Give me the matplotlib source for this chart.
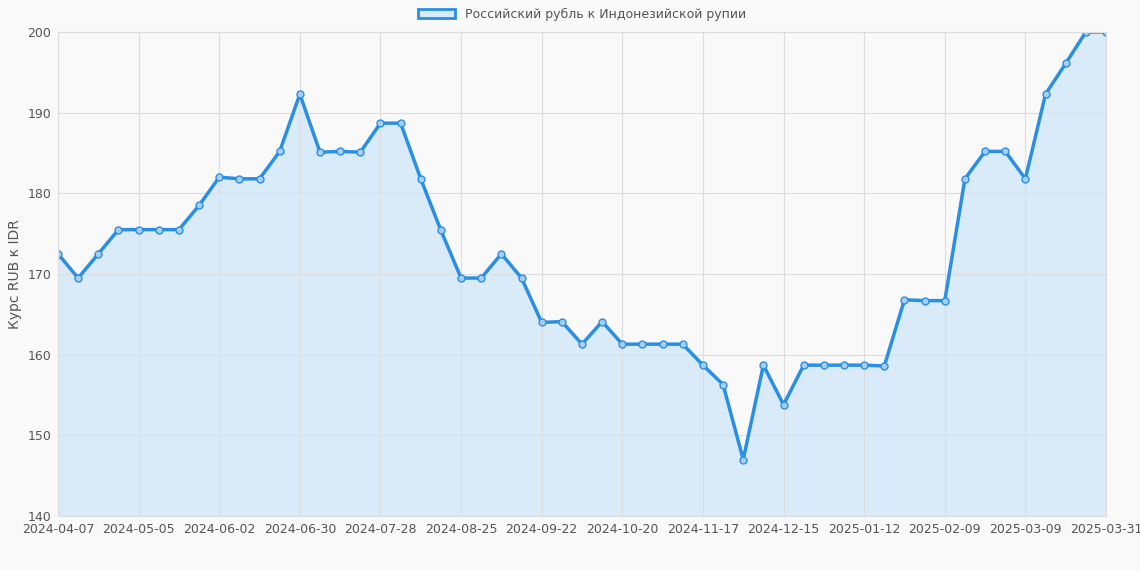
import matplotlib
matplotlib.use("Agg")
import matplotlib.pyplot as plt

values = [172.5,169.5,172.5,175.5,175.5,175.5,175.5,178.5,182,181.8,181.8,185.2,192.3,185.1,185.2,185.1,
          188.7,188.7,181.8,175.4,169.5,169.5,172.5,169.5,164,164.1,161.3,164.1,161.3,161.3,161.3,161.3,
          158.7,156.3,147,158.7,153.8,158.7,158.7,158.7,158.7,158.6,166.8,166.7,166.7,181.8,185.2,185.2,
          181.8,192.3,196.1,200,200]
tick_labels = ["2024-04-07","2024-05-05","2024-06-02","2024-06-30","2024-07-28","2024-08-25","2024-09-22",
               "2024-10-20","2024-11-17","2024-12-15","2025-01-12","2025-02-09","2025-03-09","2025-03-31"]
tick_pos = list(range(0, 49, 4)) + [52]

bg = "#f9f9f9"
fig = plt.figure(figsize=(11.4, 5.7), dpi=100, facecolor=bg)
ax = fig.add_axes([58/1140, 1-516/570, 1048/1140, 484/570], facecolor=bg)
x = list(range(len(values)))
line = "#2a8fe3"
ax.fill_between(x, values, 140, color="#d9eaf8")
ax.plot(x, values, color=line, lw=2.5, marker="o", ms=5, mfc="#a8cff2", mec=line, mew=1)
ax.set_xlim(0, 52); ax.set_ylim(140, 200)
ax.set_yticks(range(140, 201, 10))
ax.set_xticks(tick_pos); ax.set_xticklabels(tick_labels)
ax.grid(color="#dddddd", lw=0.8)
for s in ax.spines.values():
    s.set_color("#dddddd")
ax.tick_params(colors="#555555", labelsize=9, length=0, pad=5)
ax.set_ylabel("Курс RUB к IDR", color="#555555", fontsize=10)
leg = ax.legend([plt.Rectangle((0,0),1,1, fc="#d9eaf8", ec=line, lw=2)], ["Российский рубль к Индонезийской рупии"],
          loc="lower center", bbox_to_anchor=(0.5, 1.0), frameon=False, fontsize=9, handlelength=3)
for t in leg.get_texts(): t.set_color("#555555")
fig.savefig("out.png", dpi=100, facecolor=bg)
